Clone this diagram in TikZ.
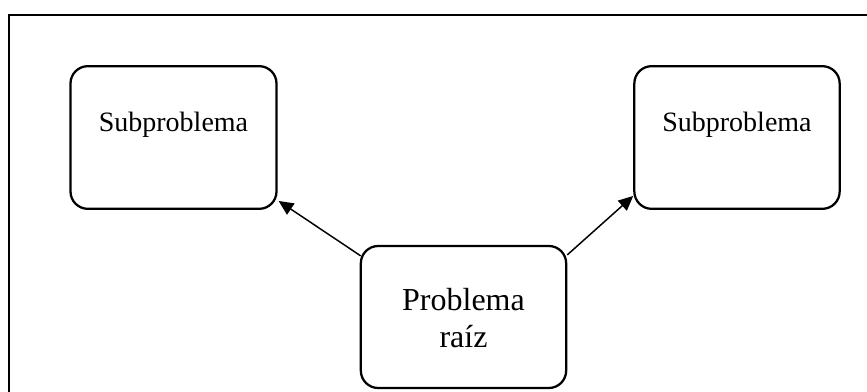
\documentclass[tikz,border=0pt]{standalone}
\usepackage{fontspec}
\setmainfont{Liberation Serif}
\usetikzlibrary{arrows.meta,calc}
\tikzset{
  box/.style={draw, line width=1.7pt, rounded corners=13pt, inner sep=0pt},
  subtext/.style={font=\fontsize{21}{25}\selectfont, inner sep=0pt},
  roottext/.style={font=\fontsize{24}{28}\selectfont, inner sep=0pt, align=center},
  conn/.style={line width=1.1pt, -{Triangle[length=11pt,width=10pt]}},
  frame/.style={line width=1.6pt}
}
\begin{document}
\begin{tikzpicture}[x=0.75pt,y=-0.75pt]
\useasboundingbox (0,0) rectangle (867,392);
\coordinate (fb) at (9,393);
\coordinate (fc) at (9,15);
\coordinate (fr) at (868,15);
\draw[frame] (fb) -- (fc) -- (fr);
\node[box, minimum width=154.5pt, minimum height=107pt] (left) at (173.5,137.5) {};
\node[box, minimum width=154pt, minimum height=107pt] (right) at (737,137.5) {};
\node[box, minimum width=154pt, minimum height=106.5pt] (root) at (463.5,317) {};
\node[subtext] (lt) at (173.5,125) {Subproblema};
\node[subtext] (rt) at (737,125) {Subproblema};
\node[roottext] (rtx) at (463.5,318) {Problema\\raíz};
\draw[conn] ($(root.north west)+(1,11)$) -- ($(left.south east)+(1,-9)$);
\draw[conn] ($(root.north east)+(0,10)$) -- ($(right.south west)+(0,-14)$);
\end{tikzpicture}
\end{document}
